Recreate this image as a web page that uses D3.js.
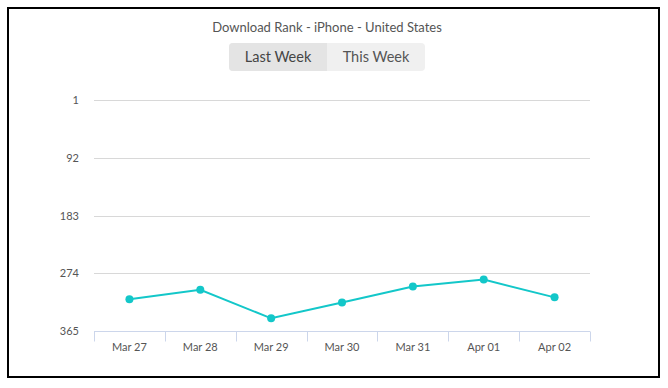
<!DOCTYPE html>
<html>
<head>
<meta charset="utf-8">
<script src="https://cdn.jsdelivr.net/npm/d3@7"></script>
<style>
  html, body { margin: 0; padding: 0; background: #fff; }
  svg { display: block; font-family: Lato, "Open Sans", sans-serif; }
</style>
</head>
<body>
<div id="chart"></div>
<script>
const categories = ["Mar 27", "Mar 28", "Mar 29", "Mar 30", "Mar 31", "Apr 01", "Apr 02"];
const rankValues = [315, 300, 345, 320, 295, 284, 312];
const rankTicks = [1, 92, 183, 274, 365];
const weekButtons = ["Last Week", "This Week"];

const width = 668, height = 388;
const margin = { top: 100, right: 78, bottom: 57, left: 94 };

const svg = d3.select('#chart').append('svg')
  .attr('width', width)
  .attr('height', height);

// outer frame
svg.append('rect')
  .attr('x', 8).attr('y', 8)
  .attr('width', 651).attr('height', 369)
  .attr('fill', 'none')
  .attr('stroke', '#000')
  .attr('stroke-width', 2);

svg.append('text')
  .attr('x', 327).attr('y', 32)
  .attr('text-anchor', 'middle')
  .attr('font-size', 13)
  .attr('fill', '#555')
  .text('Download Rank - iPhone - United States');

// toggle buttons
const btnX = d3.scaleBand().domain(weekButtons).range([229, 425]);
const btnG = svg.append('g');
btnG.append('rect')
  .attr('x', 229).attr('y', 43)
  .attr('width', 196).attr('height', 28)
  .attr('rx', 4)
  .attr('fill', '#f0f0f0');
btnG.append('path')
  .attr('d', 'M' + (btnX('This Week')) + ',43 H233 a4,4 0 0 0 -4,4 V67 a4,4 0 0 0 4,4 H' + btnX('This Week') + ' Z')
  .attr('fill', '#e4e4e4');
btnG.selectAll('text')
  .data(weekButtons)
  .enter().append('text')
  .attr('x', d => btnX(d) + btnX.bandwidth() / 2)
  .attr('y', 62)
  .attr('text-anchor', 'middle')
  .attr('font-size', 14.5)
  .attr('fill', (d, i) => i === 0 ? '#444' : '#555')
  .text(d => d);

const x = d3.scaleBand()
  .domain(categories)
  .range([margin.left, width - margin.right]);

const y = d3.scaleLinear()
  .domain([1, 365])
  .range([margin.top, height - margin.bottom]);

// grid + y labels
const grid = svg.append('g');
grid.selectAll('line')
  .data(rankTicks.slice(0, -1))
  .enter().append('line')
  .attr('x1', margin.left).attr('x2', width - margin.right)
  .attr('y1', d => Math.round(y(d)) + 0.5)
  .attr('y2', d => Math.round(y(d)) + 0.5)
  .attr('stroke', '#d8d8d8');
grid.selectAll('text')
  .data(rankTicks)
  .enter().append('text')
  .attr('x', 79)
  .attr('y', d => y(d) + 4)
  .attr('text-anchor', 'end')
  .attr('font-size', 11)
  .attr('fill', '#555')
  .text(d => d);

// x axis
const xAxis = svg.append('g')
  .attr('transform', 'translate(0,' + (Math.round(y(365)) + 0.5) + ')');
xAxis.append('line')
  .attr('x1', margin.left).attr('x2', width - margin.right)
  .attr('stroke', '#ccd6eb');
xAxis.selectAll('line.tick')
  .data(categories.concat(['end']))
  .enter().append('line')
  .attr('class', 'tick')
  .attr('x1', (d, i) => Math.round(i < categories.length ? x(d) : x.range()[1]) + 0.5)
  .attr('x2', (d, i) => Math.round(i < categories.length ? x(d) : x.range()[1]) + 0.5)
  .attr('y1', 0).attr('y2', 10)
  .attr('stroke', '#ccd6eb');
xAxis.selectAll('text')
  .data(categories)
  .enter().append('text')
  .attr('x', d => x(d) + x.bandwidth() / 2)
  .attr('y', 19)
  .attr('text-anchor', 'middle')
  .attr('font-size', 11)
  .attr('fill', '#555')
  .text(d => d);

// series
const cx = (d, i) => x(categories[i]) + x.bandwidth() / 2;
const line = d3.line()
  .x((d, i) => cx(d, i))
  .y(d => y(d));

svg.append('path')
  .datum(rankValues)
  .attr('d', line)
  .attr('fill', 'none')
  .attr('stroke', '#13c7c9')
  .attr('stroke-width', 2);

svg.selectAll('circle.pt')
  .data(rankValues)
  .enter().append('circle')
  .attr('class', 'pt')
  .attr('cx', cx)
  .attr('cy', d => y(d))
  .attr('r', 4)
  .attr('fill', '#13c7c9');
</script>
</body>
</html>
